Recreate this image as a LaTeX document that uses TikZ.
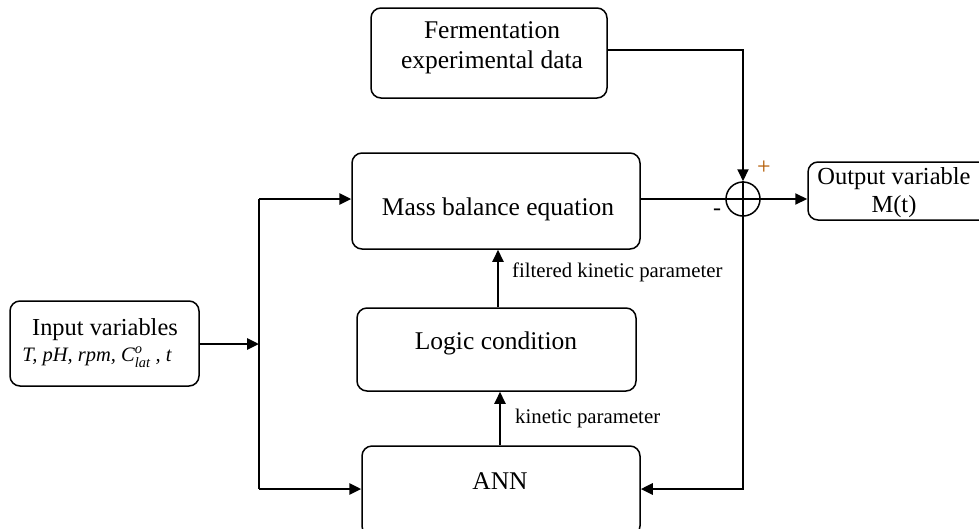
\documentclass[tikz,border=0pt]{standalone}
\usepackage{amsmath}
\usepackage{fontspec}
\setmainfont{Liberation Serif}
\usetikzlibrary{arrows.meta}
\tikzset{
  box/.style={draw, line width=1.5pt, rounded corners=10pt, inner sep=0pt},
  txt/.style={font=\fontsize{25.5}{30}\selectfont, align=center, inner sep=0pt},
  lbl/.style={font=\fontsize{20.8}{24}\selectfont, inner sep=0pt, anchor=west},
  arr/.style={-{Triangle[length=12pt,width=11pt]}},
  thickline/.style={line width=2.8pt},
  midline/.style={line width=2pt},
  thinline/.style={line width=1.3pt}
}
\begin{document}
\begin{tikzpicture}[x=1pt,y=-1pt]
\useasboundingbox (0,0) rectangle (979,528);
\clip (0,0) rectangle (979,528);
% boxes
\node[box, minimum width=236pt, minimum height=90pt] (fer) at (489,53) {};
\node[txt] (fert) at (492,48) {Fermentation\\experimental data};
\node[box, minimum width=288pt, minimum height=96pt] (mb) at (496,201) {};
\node[txt] (mbt) at (498,209) {Mass balance equation};
\node[box, minimum width=279pt, minimum height=83pt] (lc) at (496.5,349.5) {};
\node[txt] (lct) at (496,343) {Logic condition};
\node[box, minimum width=278pt, minimum height=90pt] (ann) at (501,491) {};
\node[txt] (annt) at (500,481) {ANN};
\node[box, minimum width=189pt, minimum height=85pt] (in) at (104.5,343.5) {};
\node[txt, font=\fontsize{24.4}{28}\selectfont] (int) at (105,330) {Input variables};
\node[txt, font=\fontsize{20.5}{24}\selectfont\itshape] (ins) at (97,357) {T, pH, rpm, C$^{\text{\itshape o}}_{\text{\itshape lat}}$ , t};
\node[box, minimum width=185pt, minimum height=58pt] (out) at (900.5,191) {};
\node[txt, font=\fontsize{24.5}{28}\selectfont] (outt) at (894,193) {Output variable\\M(t)};
% summing junction
\node[draw, circle, line width=1.5pt, minimum size=34pt, inner sep=0pt] (sum) at (743,199) {};
\draw[line width=1.5pt] (sum.north) -- (sum.south) (sum.west) -- (sum.east);
\node[font=\fontsize{24}{26}\selectfont, text=orange!70!black, inner sep=0pt] (plus) at (764,168) {+};
\node[font=\fontsize{24}{26}\selectfont, inner sep=0pt] (minus) at (717,212) {-};
% connectors
\coordinate (bus) at (259,344);
\coordinate (bustop) at (259,199);
\coordinate (busbot) at (259,489);
\coordinate (fb) at (743,489);
\coordinate (fc) at (743,50);
\draw[thickline, arr] (in.east |- bus) -- (bus);
\draw[thickline] (bustop) -- (busbot);
\draw[thickline, arr] (bustop) -- (mb.west |- bustop);
\draw[thickline, arr] (busbot) -- (ann.west |- busbot);
\draw[midline, arr] (fer.east |- fc) -- (fc) -- (sum.north);
\draw[thinline] (mb.east |- sum) -- (sum.west);
\draw[midline, arr] (sum.east) -- (out.west |- sum);
\draw[thickline, arr] (sum.south) -- (fb) -- (ann.east |- fb);
\draw[midline, arr] (ann.north -| 500,0) -- (lc.south -| 500,0);
\draw[midline, arr] (lc.north -| 498,0) -- (mb.south -| 498,0);
\node[lbl] (l1) at (512,272) {filtered kinetic parameter};
\node[lbl] (l2) at (515,418) {kinetic parameter};
\end{tikzpicture}
\end{document}
